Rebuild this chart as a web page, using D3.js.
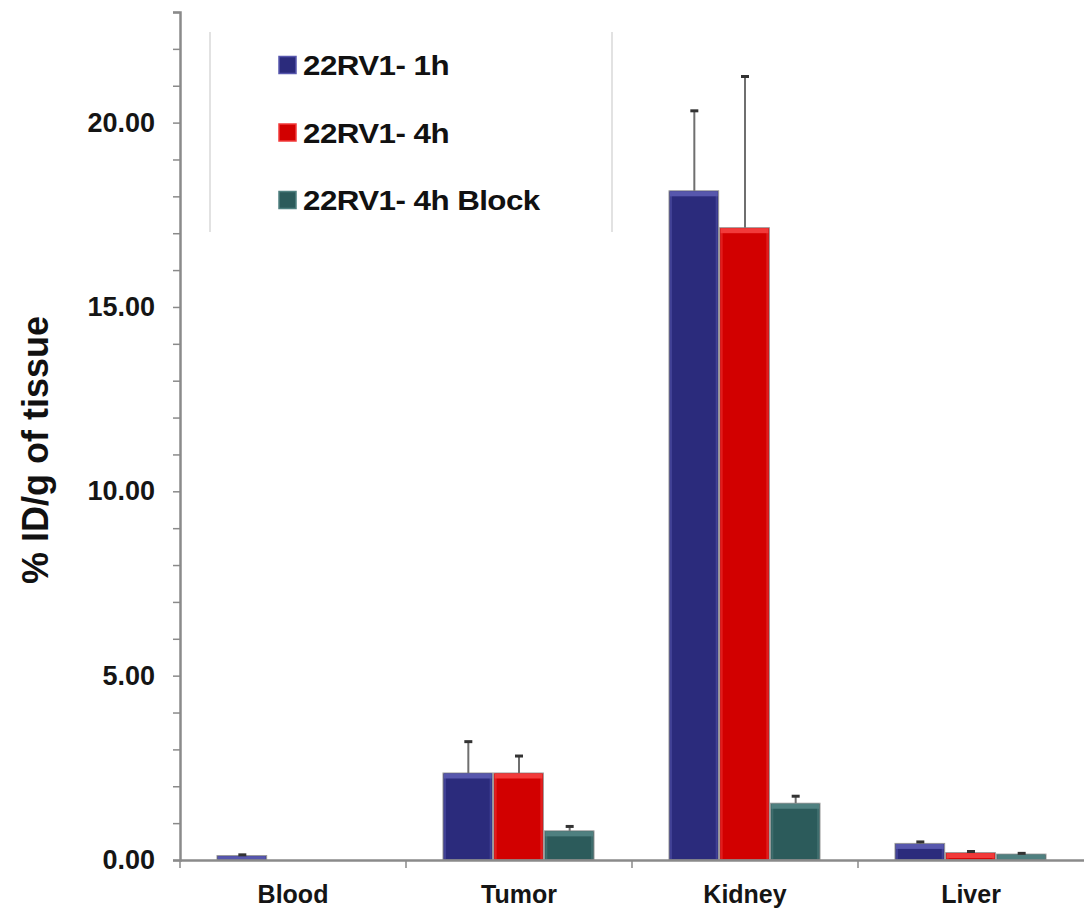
<!DOCTYPE html>
<html>
<head>
<meta charset="utf-8">
<script src="https://cdn.jsdelivr.net/npm/d3@7"></script>
<style>
  body { margin: 0; background: #fff; }
  svg { display: block; font-family: "Liberation Sans", Arial, sans-serif; }
</style>
</head>
<body>
<svg id="chart" width="1084" height="916"></svg>
<script>
// biodistribution data
const categories = ["Blood", "Tumor", "Kidney", "Liver"];
const seriesNames = ["22RV1- 1h", "22RV1- 4h", "22RV1- 4h Block"];
const values1h = [0.12, 2.36, 18.15, 0.45];
const errors1h = [0.02, 0.85, 2.17, 0.04];
const values4h = [0, 2.36, 17.15, 0.2];
const errors4h = [0, 0.46, 4.1, 0.03];
const valuesBlock = [0, 0.79, 1.54, 0.16];
const errorsBlock = [0, 0.12, 0.19, 0.02];
const yTicks = d3.range(0, 24);

const colors = ["#2b2b7c", "#d20000", "#2c5b5b"];
const bevel = ["#5757ad", "#f23a3a", "#4f8080"];

const svg = d3.select("#chart");
const plotLeft = 180, plotRight = 1084, plotTop = 12, plotBottom = 860;

const seriesVals = [values1h, values4h, valuesBlock];
const seriesErrs = [errors1h, errors4h, errorsBlock];
const rows = [];
categories.forEach((c, i) => {
  seriesNames.forEach((s, j) => {
    rows.push({ cat: c, series: s, idx: j, value: seriesVals[j][i], err: seriesErrs[j][i] });
  });
});

const x = d3.scaleBand().domain(categories).range([plotLeft, plotRight]);
const x1 = d3.scaleBand().domain(seriesNames).range([0, x.bandwidth()]).paddingOuter(0.73);
const y = d3.scaleLinear().domain([0, 23]).range([plotBottom, plotTop]);

// y axis
const yAxis = svg.append("g")
  .attr("transform", `translate(${plotLeft},0)`)
  .call(d3.axisLeft(y).tickValues(yTicks).tickSize(7).tickPadding(18)
    .tickFormat(d => d % 5 === 0 ? d3.format(".2f")(d) : ""));
yAxis.select(".domain").attr("stroke", "#8a8a8a").attr("stroke-width", 2.5);
yAxis.selectAll(".tick line").attr("stroke", "#8a8a8a").attr("stroke-width", 1.5);
yAxis.selectAll(".tick text")
  .attr("fill", "#151515").style("font-size", "27px").style("font-weight", "bold");

// legend frame lines
svg.append("line").attr("x1", 210).attr("x2", 210).attr("y1", 32).attr("y2", 232)
  .attr("stroke", "#e2e2e2").attr("stroke-width", 2);
svg.append("line").attr("x1", 612).attr("x2", 612).attr("y1", 32).attr("y2", 232)
  .attr("stroke", "#e2e2e2").attr("stroke-width", 2);

// bars
const bars = svg.append("g");
rows.filter(d => d.value > 0).forEach(d => {
  const bx = x(d.cat) + x1(d.series);
  const bw = x1.bandwidth() - 1;
  const by = y(d.value);
  const bh = y(0) - by;
  bars.append("rect")
    .attr("x", bx).attr("y", by).attr("width", bw).attr("height", bh)
    .attr("fill", colors[d.idx]).attr("stroke", "#9a9a9a").attr("stroke-width", 1);
  bars.append("rect")
    .attr("x", bx + 1).attr("y", by + 0.5).attr("width", bw - 2).attr("height", Math.min(5, bh - 1))
    .attr("fill", bevel[d.idx]);
  bars.append("rect")
    .attr("x", bx + 1).attr("y", by + 1).attr("width", 2).attr("height", Math.max(0, bh - 2))
    .attr("fill", bevel[d.idx]).attr("opacity", 0.5);
  bars.append("rect")
    .attr("x", bx + bw - 3).attr("y", by + 1).attr("width", 2).attr("height", Math.max(0, bh - 2))
    .attr("fill", bevel[d.idx]).attr("opacity", 0.5);
});

// error bars
const errs = svg.append("g");
rows.filter(d => d.value > 0).forEach(d => {
  const cx = x(d.cat) + x1(d.series) + x1.bandwidth() / 2;
  errs.append("line")
    .attr("x1", cx).attr("x2", cx).attr("y1", y(d.value)).attr("y2", y(d.value + d.err))
    .attr("stroke", "#6f6f6f").attr("stroke-width", 2);
  errs.append("line")
    .attr("x1", cx - 4).attr("x2", cx + 4).attr("y1", y(d.value + d.err)).attr("y2", y(d.value + d.err))
    .attr("stroke", "#333").attr("stroke-width", 3);
});

// x axis
const xAxis = svg.append("g")
  .attr("transform", `translate(0,${plotBottom})`)
  .call(d3.axisBottom(x).tickSize(0).tickPadding(25));
xAxis.select(".domain").attr("stroke", "#8a8a8a").attr("stroke-width", 2.5);
xAxis.selectAll(".tick text")
  .attr("fill", "#151515").style("font-size", "25px").style("font-weight", "bold");
xAxis.selectAll(".boundary")
  .data(categories)
  .enter().append("line")
  .attr("x1", d => x(d)).attr("x2", d => x(d))
  .attr("y1", 0).attr("y2", 8)
  .attr("stroke", "#8a8a8a").attr("stroke-width", 1.5);

// legend
const legend = svg.append("g");
seriesNames.forEach((s, j) => {
  const ly = 65 + j * 67.5;
  legend.append("rect")
    .attr("x", 279).attr("y", ly - 8.5).attr("width", 17).attr("height", 17)
    .attr("fill", colors[j]).attr("stroke", bevel[j]).attr("stroke-width", 1.5);
  legend.append("text")
    .attr("transform", `translate(303,${ly + 10}) scale(1.12,1)`)
    .attr("fill", "#111")
    .style("font-size", "28px").style("font-weight", "bold")
    .style("letter-spacing", "-0.5px")
    .text(s);
});

// y axis title
svg.append("text")
  .attr("transform", "translate(48,450) rotate(-90)")
  .attr("text-anchor", "middle")
  .attr("fill", "#111")
  .style("font-size", "36px").style("font-weight", "bold")
  .text("% ID/g of tissue");
</script>
</body>
</html>
